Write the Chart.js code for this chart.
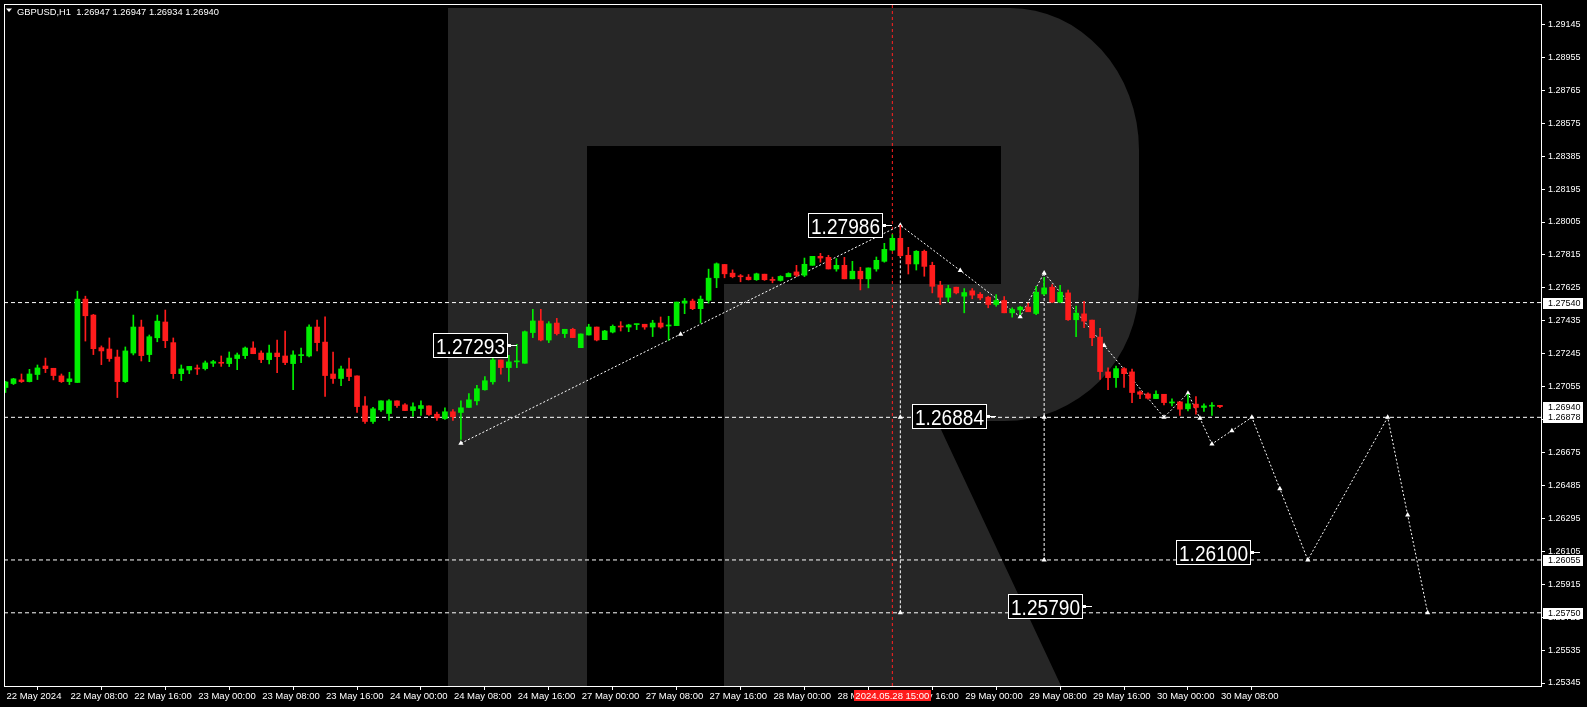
<!DOCTYPE html>
<html>
<head>
<meta charset="utf-8">
<title>GBPUSD,H1</title>
<script src="https://cdn.jsdelivr.net/npm/chart.js@4.4.1/dist/chart.umd.min.js"></script>
<style>
  html, body { margin: 0; padding: 0; background: #000; overflow: hidden; }
  #contenedor { width: 1587px; height: 707px; }
</style>
</head>
<body>
<div id="contenedor"><canvas id="graficaVelas"></canvas></div>
<script>
// ========== DATOS ==========
const tituloSimbolo = 'GBPUSD,H1  1.26947 1.26947 1.26934 1.26940';

// Velas H1, una por hora desde 22 May 2024 00:00 hasta 30 May 08:00
const aperturas = [
  1.27050, 1.27073, 1.27094, 1.27084, 1.27125, 1.27174, 1.27161, 1.27117, 1.27084, 1.27079,
  1.27560, 1.27468, 1.27280, 1.27272, 1.27226, 1.27084, 1.27249, 1.27399, 1.27240, 1.27337,
  1.27428, 1.27309, 1.27130, 1.27151, 1.27161, 1.27159, 1.27190, 1.27194, 1.27188, 1.27217,
  1.27234, 1.27278, 1.27249, 1.27211, 1.27249, 1.27232, 1.27188, 1.27234, 1.27232, 1.27399,
  1.27312, 1.27128, 1.27102, 1.27157, 1.27117, 1.26944, 1.26854, 1.26921, 1.26900, 1.26973,
  1.26950, 1.26917, 1.26929, 1.26944, 1.26896, 1.26871, 1.26910, 1.26906, 1.26935, 1.26973,
  1.27037, 1.27083, 1.27209, 1.27165, 1.27198, 1.27190, 1.27367, 1.27434, 1.27324, 1.27422,
  1.27361, 1.27386, 1.27280, 1.27353, 1.27399, 1.27326, 1.27370, 1.27403, 1.27399, 1.27413,
  1.27415, 1.27399, 1.27422, 1.27405, 1.27407, 1.27537, 1.27549, 1.27505, 1.27553, 1.27683,
  1.27760, 1.27710, 1.27693, 1.27687, 1.27672, 1.27704, 1.27672, 1.27668, 1.27689, 1.27717,
  1.27698, 1.27755, 1.27807, 1.27801, 1.27734, 1.27755, 1.27677, 1.27721, 1.27677, 1.27734,
  1.27778, 1.27843, 1.27911, 1.27813, 1.27763, 1.27836, 1.27755, 1.27640, 1.27571, 1.27629,
  1.27577, 1.27608, 1.27588, 1.27571, 1.27529, 1.27552, 1.27481, 1.27498, 1.27514, 1.27477,
  1.27590, 1.27629, 1.27543, 1.27596, 1.27441, 1.27475, 1.27439, 1.27341, 1.27140, 1.27107,
  1.27159, 1.27140, 1.27025, 1.27013, 1.26986, 1.27011, 1.26961, 1.26967, 1.26927, 1.26954,
  1.26935, 1.26942, 1.26947
];
const maximos = [
  1.27086, 1.27103, 1.27128, 1.27155, 1.27180, 1.27220, 1.27161, 1.27128, 1.27138, 1.27606,
  1.27577, 1.27472, 1.27290, 1.27336, 1.27266, 1.27284, 1.27468, 1.27439, 1.27353, 1.27468,
  1.27497, 1.27336, 1.27180, 1.27172, 1.27180, 1.27203, 1.27207, 1.27232, 1.27255, 1.27249,
  1.27284, 1.27314, 1.27261, 1.27295, 1.27324, 1.27376, 1.27261, 1.27278, 1.27412, 1.27439,
  1.27458, 1.27255, 1.27174, 1.27220, 1.27117, 1.26998, 1.26935, 1.26973, 1.26981, 1.26973,
  1.26958, 1.26962, 1.26973, 1.26944, 1.26908, 1.26933, 1.26923, 1.26973, 1.27015, 1.27062,
  1.27113, 1.27242, 1.27209, 1.27236, 1.27299, 1.27376, 1.27501, 1.27501, 1.27430, 1.27449,
  1.27386, 1.27392, 1.27359, 1.27415, 1.27399, 1.27380, 1.27411, 1.27430, 1.27415, 1.27416,
  1.27415, 1.27438, 1.27457, 1.27461, 1.27543, 1.27564, 1.27560, 1.27578, 1.27733, 1.27769,
  1.27760, 1.27729, 1.27702, 1.27702, 1.27710, 1.27704, 1.27687, 1.27695, 1.27712, 1.27755,
  1.27797, 1.27807, 1.27824, 1.27813, 1.27794, 1.27801, 1.27778, 1.27744, 1.27740, 1.27803,
  1.27882, 1.27932, 1.27986, 1.27859, 1.27840, 1.27843, 1.27773, 1.27663, 1.27640, 1.27629,
  1.27621, 1.27621, 1.27598, 1.27577, 1.27586, 1.27575, 1.27510, 1.27519, 1.27537, 1.27634,
  1.27686, 1.27644, 1.27640, 1.27612, 1.27520, 1.27548, 1.27439, 1.27391, 1.27163, 1.27174,
  1.27165, 1.27157, 1.27031, 1.27019, 1.27031, 1.27011, 1.26985, 1.26967, 1.27011, 1.26998,
  1.26956, 1.26963, 1.26947
];
const minimos = [
  1.27021, 1.27067, 1.27079, 1.27082, 1.27096, 1.27136, 1.27094, 1.27079, 1.27067, 1.27079,
  1.27318, 1.27240, 1.27182, 1.27201, 1.26992, 1.27079, 1.27238, 1.27203, 1.27199, 1.27314,
  1.27280, 1.27102, 1.27090, 1.27130, 1.27125, 1.27151, 1.27171, 1.27172, 1.27171, 1.27153,
  1.27217, 1.27245, 1.27194, 1.27186, 1.27136, 1.27182, 1.27038, 1.27194, 1.27226, 1.27261,
  1.26998, 1.27073, 1.27061, 1.27090, 1.26906, 1.26843, 1.26843, 1.26912, 1.26860, 1.26935,
  1.26917, 1.26883, 1.26889, 1.26889, 1.26860, 1.26866, 1.26860, 1.26750, 1.26935, 1.26950,
  1.27035, 1.27069, 1.27127, 1.27085, 1.27165, 1.27190, 1.27338, 1.27319, 1.27309, 1.27353,
  1.27338, 1.27338, 1.27280, 1.27353, 1.27319, 1.27326, 1.27365, 1.27376, 1.27372, 1.27384,
  1.27386, 1.27344, 1.27392, 1.27322, 1.27407, 1.27476, 1.27499, 1.27422, 1.27537, 1.27626,
  1.27683, 1.27683, 1.27660, 1.27670, 1.27668, 1.27668, 1.27654, 1.27664, 1.27689, 1.27690,
  1.27690, 1.27755, 1.27773, 1.27734, 1.27721, 1.27677, 1.27677, 1.27613, 1.27625, 1.27721,
  1.27773, 1.27840, 1.27803, 1.27705, 1.27728, 1.27692, 1.27596, 1.27529, 1.27544, 1.27590,
  1.27481, 1.27562, 1.27556, 1.27510, 1.27519, 1.27481, 1.27456, 1.27471, 1.27487, 1.27471,
  1.27583, 1.27539, 1.27539, 1.27437, 1.27343, 1.27395, 1.27291, 1.27096, 1.27038, 1.27050,
  1.27050, 1.26963, 1.26985, 1.26983, 1.26986, 1.26950, 1.26944, 1.26889, 1.26915, 1.26896,
  1.26912, 1.26889, 1.26934
];
const cierres = [
  1.27082, 1.27100, 1.27084, 1.27128, 1.27163, 1.27159, 1.27119, 1.27084, 1.27100, 1.27560,
  1.27464, 1.27274, 1.27261, 1.27217, 1.27084, 1.27261, 1.27399, 1.27234, 1.27343, 1.27433,
  1.27320, 1.27130, 1.27157, 1.27172, 1.27157, 1.27192, 1.27199, 1.27190, 1.27220, 1.27238,
  1.27278, 1.27245, 1.27211, 1.27249, 1.27228, 1.27194, 1.27238, 1.27238, 1.27399, 1.27309,
  1.27119, 1.27102, 1.27157, 1.27113, 1.26940, 1.26854, 1.26927, 1.26973, 1.26973, 1.26946,
  1.26917, 1.26939, 1.26946, 1.26894, 1.26875, 1.26910, 1.26881, 1.26933, 1.26979, 1.27043,
  1.27089, 1.27209, 1.27165, 1.27198, 1.27202, 1.27372, 1.27434, 1.27324, 1.27418, 1.27361,
  1.27386, 1.27338, 1.27359, 1.27399, 1.27324, 1.27376, 1.27403, 1.27399, 1.27411, 1.27416,
  1.27399, 1.27422, 1.27399, 1.27409, 1.27543, 1.27549, 1.27505, 1.27560, 1.27681, 1.27764,
  1.27706, 1.27689, 1.27689, 1.27672, 1.27706, 1.27672, 1.27668, 1.27691, 1.27708, 1.27698,
  1.27761, 1.27807, 1.27797, 1.27734, 1.27755, 1.27677, 1.27721, 1.27677, 1.27740, 1.27784,
  1.27847, 1.27911, 1.27811, 1.27763, 1.27836, 1.27749, 1.27634, 1.27571, 1.27621, 1.27596,
  1.27598, 1.27583, 1.27567, 1.27529, 1.27552, 1.27481, 1.27500, 1.27514, 1.27487, 1.27600,
  1.27625, 1.27543, 1.27600, 1.27441, 1.27479, 1.27433, 1.27337, 1.27142, 1.27107, 1.27159,
  1.27130, 1.27021, 1.27011, 1.26988, 1.27011, 1.26963, 1.26965, 1.26925, 1.26956, 1.26935,
  1.26944, 1.26946, 1.26940
];

// Etiquetas del eje de tiempo (cada 8 velas)
const barrasTiempo = [0, 8, 16, 24, 32, 40, 48, 56, 64, 72, 80, 88, 96, 104, 112, 120, 128, 136, 144, 152];
const etiquetasTiempo = [
  '22 May 2024', '22 May 08:00', '22 May 16:00', '23 May 00:00', '23 May 08:00',
  '23 May 16:00', '24 May 00:00', '24 May 08:00', '24 May 16:00', '27 May 00:00',
  '27 May 08:00', '27 May 16:00', '28 May 00:00', '28 May 08:00', '28 May 16:00',
  '29 May 00:00', '29 May 08:00', '29 May 16:00', '30 May 00:00', '30 May 08:00'
];

// Marcas del eje de precios
const ticksPrecio = [
  1.25345, 1.25535, 1.25725, 1.25915, 1.26105, 1.26295, 1.26485, 1.26675, 1.26865, 1.27055,
  1.27245, 1.27435, 1.27625, 1.27815, 1.28005, 1.28195, 1.28385, 1.28575, 1.28765, 1.28955, 1.29145
];

// Niveles horizontales y etiquetas del eje
const nivelesPrecio = [1.27540, 1.26878, 1.26055, 1.25750];
const marcasEje = [1.27540, 1.26940, 1.26878, 1.26055, 1.25750];

// Trayectoria de la onda (previsión) con sus marcadores
const ondaBarras = [57, 84.5, 112, 119.5, 127, 130, 137.5, 145, 148, 149.5, 151, 153.5, 156, 159.5, 163, 173, 175.5, 178];
const ondaPrecios = [1.26728, 1.27358, 1.27986, 1.27725, 1.27458, 1.27711, 1.27293, 1.26878, 1.27017, 1.26872,
                     1.26724, 1.26801, 1.26878, 1.26466, 1.26055, 1.26878, 1.26314, 1.25750];

// Líneas verticales de medición
const verticalBarras = [112, 130];
const verticalArriba = [1.27986, 1.27711];
const verticalAbajo = [1.25750, 1.26055];
const marcadorBarras = [112, 112, 130, 130];
const marcadorPrecios = [1.26878, 1.25750, 1.26878, 1.26055];

// Etiquetas grandes de precio
const textosEtiqueta = ['1.27293', '1.27986', '1.26884', '1.26100', '1.25790'];
const barrasEtiqueta = [64, 111, 124, 157, 136];
const preciosEtiqueta = [1.27293, 1.27986, 1.26884, 1.26100, 1.25790];

// Cruz roja
const barraCruz = 111;
const textoCruz = '2024.05.28 15:00';

// ========== CONFIGURACIÓN ==========
const X_MIN = -0.1875, X_MAX = 192.1875;
const Y_MIN = 1.253277, Y_MAX = 1.292629;
const ALCISTA = '#00ee00';
const BAJISTA = '#ff1c1c';
const FUENTE = '"Liberation Sans", Arial, sans-serif';

const coloresVela = aperturas.map((o, i) => cierres[i] >= o ? ALCISTA : BAJISTA);

// ========== MARCA DE AGUA "R" ==========
const marcaAgua = {
  id: 'marcaAgua',
  beforeDatasetsDraw(chart) {
    const { ctx, chartArea: a } = chart;
    ctx.save();
    ctx.beginPath();
    ctx.rect(a.left, a.top, a.right - a.left, a.bottom - a.top);
    ctx.clip();
    ctx.fillStyle = '#262626';
    ctx.beginPath();
    ctx.moveTo(448, 8);
    ctx.lineTo(1010, 8);
    ctx.ellipse(1010, 150, 129, 142, 0, -Math.PI / 2, 0, false);
    ctx.lineTo(1139, 285);
    ctx.ellipse(1004, 285, 135, 136, 0, 0, Math.PI / 2, false);
    ctx.lineTo(937, 421);
    ctx.lineTo(1063, 690);
    ctx.lineTo(724, 690);
    ctx.lineTo(724, 284);
    ctx.lineTo(1001, 284);
    ctx.lineTo(1001, 146);
    ctx.lineTo(587, 146);
    ctx.lineTo(587, 690);
    ctx.lineTo(448, 690);
    ctx.closePath();
    ctx.fill();
    ctx.restore();
  }
};

// ========== ETIQUETAS Y MARCO ==========
const etiquetas = {
  id: 'etiquetas',
  afterDatasetsDraw(chart) {
    const { ctx, chartArea: a, scales: { x, y } } = chart;
    ctx.save();
    // etiquetas grandes con su conector
    textosEtiqueta.forEach((texto, i) => {
      const ax = Math.round(x.getPixelForValue(barrasEtiqueta[i]));
      const ay = Math.round(y.getPixelForValue(preciosEtiqueta[i]));
      const der = ax - 10;
      const izq = der - 74;
      ctx.fillStyle = '#000';
      ctx.fillRect(izq, ay - 12, 74, 24);
      ctx.strokeStyle = '#fff';
      ctx.lineWidth = 1;
      ctx.strokeRect(izq + 0.5, ay - 11.5, 74, 24);
      ctx.beginPath();
      ctx.moveTo(der, ay + 0.5);
      ctx.lineTo(ax, ay + 0.5);
      ctx.stroke();
      ctx.fillStyle = '#fff';
      ctx.fillRect(der + 1, ay - 1, 3, 3);
      ctx.font = '22px ' + FUENTE;
      ctx.textAlign = 'left';
      ctx.textBaseline = 'alphabetic';
      ctx.fillText(texto, izq + 3, ay + 8.5, 69);
    });
    // marco blanco
    ctx.strokeStyle = '#fff';
    ctx.lineWidth = 1;
    ctx.strokeRect(Math.round(a.left) + 0.5, Math.round(a.top) + 0.5,
      Math.round(a.right - a.left), Math.round(a.bottom - a.top));
    ctx.restore();
  },
  afterDraw(chart) {
    const { ctx, chartArea: a, scales: { x, y } } = chart;
    ctx.save();
    // precios resaltados en el eje
    ctx.font = '9px ' + FUENTE;
    ctx.textAlign = 'left';
    ctx.textBaseline = 'middle';
    marcasEje.forEach(p => {
      const py = Math.round(y.getPixelForValue(p));
      ctx.fillStyle = '#fff';
      ctx.fillRect(a.right + 2, py - 5, 40, 11);
      ctx.fillStyle = '#000';
      ctx.fillText(p.toFixed(5), a.right + 7, py + 0.5);
    });
    // fecha de la cruz
    const cx = x.getPixelForValue(barraCruz);
    ctx.fillStyle = '#ff1c1c';
    ctx.fillRect(Math.round(cx - 38.5), a.bottom + 4, 77, 11);
    ctx.fillStyle = '#fff';
    ctx.font = '9.5px ' + FUENTE;
    ctx.textAlign = 'center';
    ctx.fillText(textoCruz, cx, a.bottom + 10, 75);
    // título
    ctx.beginPath();
    ctx.moveTo(6, 8.5);
    ctx.lineTo(12, 8.5);
    ctx.lineTo(9, 12);
    ctx.closePath();
    ctx.fill();
    ctx.textAlign = 'left';
    ctx.textBaseline = 'alphabetic';
    ctx.fillText(tituloSimbolo, 17, 14.5, 202);
    ctx.restore();
  }
};

// ========== CONJUNTOS DE DATOS ==========
function lineaPunteada(puntos, color, guiones, orden) {
  return {
    type: 'line',
    data: puntos,
    borderColor: color,
    borderWidth: 1,
    borderDash: guiones,
    pointRadius: 0,
    fill: false,
    tension: 0,
    order: orden
  };
}

const conjuntos = [];

// velas: mechas y cuerpos
conjuntos.push({
  type: 'bar',
  data: aperturas.map((o, i) => ({ x: i, y: [minimos[i], maximos[i]] })),
  backgroundColor: coloresVela,
  barThickness: 1,
  grouped: false,
  order: 1
});
conjuntos.push({
  type: 'bar',
  data: aperturas.map((o, i) => ({ x: i, y: [o, cierres[i]] })),
  backgroundColor: coloresVela,
  barThickness: 5,
  minBarLength: 1,
  grouped: false,
  order: 0
});

// niveles horizontales
nivelesPrecio.forEach(p => {
  conjuntos.push(lineaPunteada([{ x: X_MIN, y: p }, { x: X_MAX, y: p }], '#ffffff', [4, 3], 5));
});

// cruz roja
conjuntos.push(lineaPunteada([{ x: barraCruz, y: Y_MIN }, { x: barraCruz, y: Y_MAX }], '#ff2020', [3, 3], 6));

// verticales de medición
verticalBarras.forEach((b, i) => {
  conjuntos.push(lineaPunteada([{ x: b, y: verticalArriba[i] }, { x: b, y: verticalAbajo[i] }], '#ffffff', [3, 2], 4));
});

// onda de previsión
const onda = lineaPunteada(ondaBarras.map((b, i) => ({ x: b, y: ondaPrecios[i] })), '#ffffff', [2, 2], 3);
onda.pointRadius = 3;
onda.pointStyle = 'triangle';
onda.pointBackgroundColor = '#ffffff';
onda.pointBorderWidth = 0;
conjuntos.push(onda);

// marcadores sobre las verticales
conjuntos.push({
  type: 'line',
  data: marcadorBarras.map((b, i) => ({ x: b, y: marcadorPrecios[i] })),
  showLine: false,
  pointRadius: 3,
  pointStyle: 'triangle',
  pointBackgroundColor: '#ffffff',
  pointBorderWidth: 0,
  order: 2
});

// ========== CREAR GRÁFICA ==========
const rejilla = {
  display: true,
  drawOnChartArea: false,
  drawTicks: true,
  tickLength: 4,
  color: '#ffffff',
  tickColor: '#ffffff'
};

new Chart(document.getElementById('graficaVelas'), {
  type: 'bar',
  data: { datasets: conjuntos },
  options: {
    responsive: true,
    maintainAspectRatio: false,
    animation: false,
    events: [],
    layout: { padding: { left: 2, top: 2, right: 0, bottom: 0 } },
    plugins: {
      legend: { display: false },
      tooltip: { enabled: false },
      title: { display: false }
    },
    scales: {
      x: {
        type: 'linear',
        position: 'bottom',
        min: X_MIN,
        max: X_MAX,
        offset: false,
        grid: rejilla,
        border: { display: false },
        ticks: {
          autoSkip: false,
          maxRotation: 0,
          minRotation: 0,
          align: 'start',
          labelOffset: 1,
          padding: 1,
          color: '#ffffff',
          font: { family: FUENTE, size: 9.5 },
          callback: (valor, indice) => etiquetasTiempo[indice]
        },
        afterBuildTicks: escala => { escala.ticks = barrasTiempo.map(v => ({ value: v })); },
        afterFit: escala => {
          escala.height = 21;
          escala.paddingLeft = 0;
          escala.paddingRight = 0;
        }
      },
      y: {
        type: 'linear',
        position: 'right',
        min: Y_MIN,
        max: Y_MAX,
        grid: rejilla,
        border: { display: false },
        ticks: {
          autoSkip: false,
          padding: 3,
          color: '#ffffff',
          font: { family: FUENTE, size: 9 },
          callback: valor => valor.toFixed(5)
        },
        afterBuildTicks: escala => { escala.ticks = ticksPrecio.map(v => ({ value: v })); },
        afterFit: escala => {
          escala.width = 46;
          escala.paddingTop = 0;
          escala.paddingBottom = 0;
        }
      }
    }
  },
  plugins: [marcaAgua, etiquetas]
});
</script>
</body>
</html>
